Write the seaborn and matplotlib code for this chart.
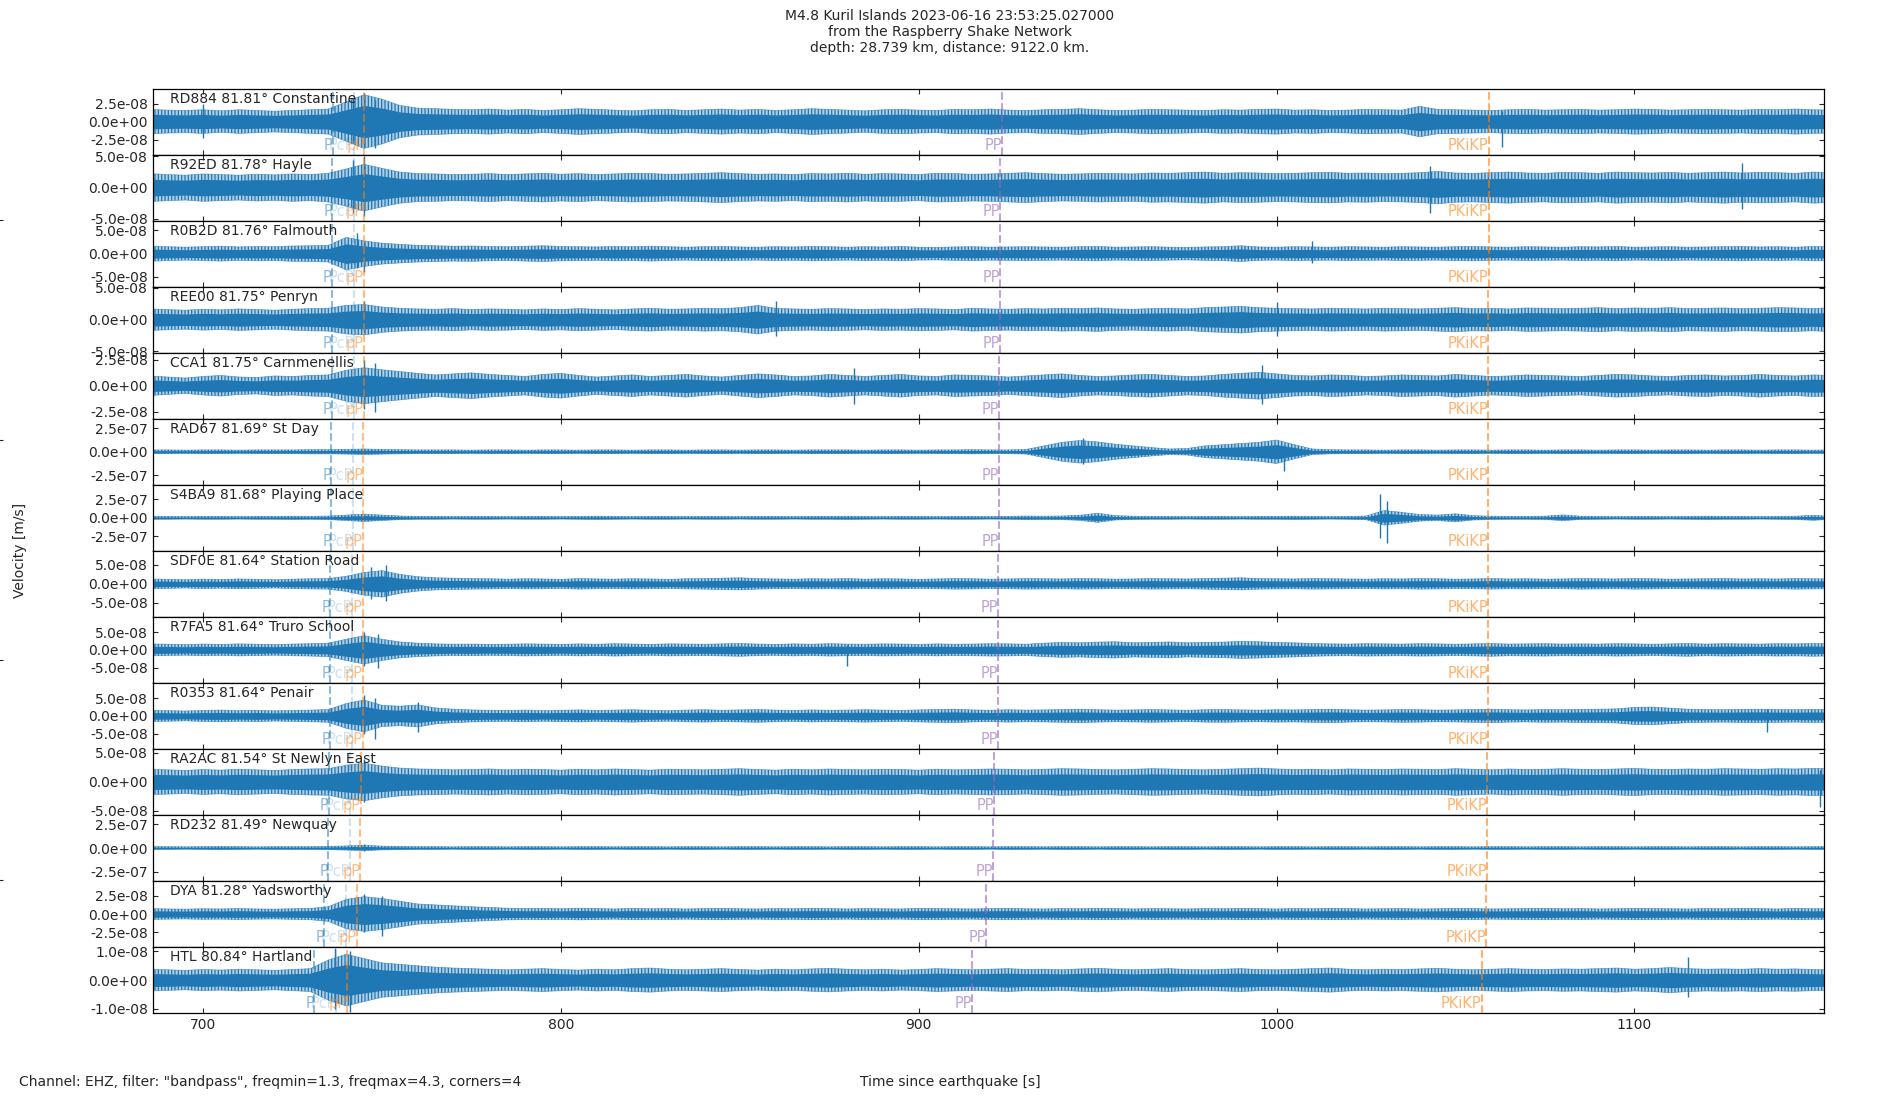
import numpy as np
import pandas as pd
import matplotlib
matplotlib.use("Agg")
import matplotlib.pyplot as plt
import matplotlib.transforms as mtransforms
from matplotlib.ticker import FormatStrFormatter
import seaborn as sns

# station labels (top to bottom)
stations = ["RD884 81.81° Constantine", "R92ED 81.78° Hayle", "R0B2D 81.76° Falmouth",
            "REE00 81.75° Penryn", "CCA1 81.75° Carnmenellis", "RAD67 81.69° St Day",
            "S4BA9 81.68° Playing Place", "SDF0E 81.64° Station Road", "R7FA5 81.64° Truro School",
            "R0353 81.64° Penair", "RA2AC 81.54° St Newlyn East", "RD232 81.49° Newquay",
            "DYA 81.28° Yadsworthy", "HTL 80.84° Hartland"]

# y tick value per station and y half-range (in tick units)
tick_val = [2.5e-08, 5e-08, 5e-08, 5e-08, 2.5e-08, 2.5e-07, 2.5e-07,
            5e-08, 5e-08, 5e-08, 5e-08, 2.5e-07, 2.5e-08, 1e-08]
ylim_units = [1.84, 1.06, 1.42, 1.04, 1.28, 1.4, 1.8, 1.74, 1.86, 1.86, 1.14, 1.4, 1.8, 1.15]

# envelope times (s) and envelope amplitude per station (hundredths of the tick value)
env_t = list(range(685, 1156, 5))
env = [
    [68,64,62,66,60,66,62,58,62,66, 70,110,150,125,90,75,72,68,66,70, 64,68,62,66,72,68,64,60,66,68,
     62,66,70,64,68,62,66,72,68,64, 60,66,68,64,62,68,66,70,64,62, 66,68,72,66,62,64,68,66,64,62,
     66,64,68,70,64,66,62,64,68,66, 64,85,68,66,64,62,66,68,64,66, 68,64,66,70,68,64,66,68,66,64,
     68,66,70,66,64],
    [45,42,40,44,42,40,43,41,44,42, 46,60,75,62,50,45,44,42,43,45, 42,44,46,43,45,42,44,46,45,43,
     44,46,48,45,43,44,42,45,44,46, 43,45,44,42,46,45,43,44,46,48, 45,43,44,46,45,44,47,46,48,50,
     46,48,47,45,46,48,49,46,47,45, 46,48,52,47,46,48,50,47,46,49, 48,46,50,48,47,49,46,48,50,47,
     49,48,46,50,48],
    [33,30,28,30,32,29,31,30,33,34, 36,70,55,45,40,36,34,32,33,31, 30,32,34,31,30,29,31,30,32,30,
     28,30,31,29,28,30,29,31,30,28, 30,29,31,28,27,29,30,28,29,30, 29,28,30,31,28,29,30,28,27,29,
     30,34,29,28,30,29,28,30,29,28, 30,29,28,30,31,29,28,30,29,28, 30,29,31,28,29,30,28,29,30,31,
     29,30,28,31,30],
    [34,32,30,33,31,34,32,30,33,35, 36,45,48,40,36,34,33,35,32,34, 33,31,34,32,35,33,31,34,36,33,
     34,36,35,38,45,36,34,33,35,34, 32,34,33,35,34,32,36,34,33,35, 34,36,35,37,34,33,35,36,34,38,
     40,42,38,36,35,34,36,35,34,36, 35,34,36,38,35,36,34,37,36,35, 36,38,35,37,36,38,35,36,37,35,
     36,38,37,35,38],
    [38,34,30,36,40,34,32,38,36,40, 42,60,70,62,55,48,42,46,50,44, 40,36,44,48,40,34,38,42,36,40,
     44,38,34,40,46,42,36,38,44,40, 36,40,44,38,36,42,40,38,34,38, 42,46,40,36,38,42,44,40,36,38,
     44,48,52,46,40,38,42,40,36,38, 42,40,38,44,40,36,38,42,40,38, 36,40,44,42,38,36,40,42,38,40,
     44,40,38,42,40],
    [8,8,7,8,8,7,8,8,8,9, 9,10,12,10,9,8,8,8,7,8, 8,7,8,8,7,8,8,7,8,8,
     7,8,8,7,8,8,7,8,8,8, 7,8,8,7,8,8,9,8,8,10, 25,40,48,42,32,25,18,12,14,25,
     30,35,40,50,30,12,9,8,8,7, 8,8,7,8,8,7,8,8,7,8, 8,7,8,8,7,8,8,7,8,8,
     7,8,8,7,8],
    [8,8,7,8,8,7,8,8,9,8, 10,15,20,15,10,8,8,7,8,8, 7,8,8,7,8,9,8,7,8,8,
     7,8,8,7,8,8,7,8,8,9, 8,7,8,8,7,8,8,7,8,10, 9,10,14,25,12,9,8,8,7,8,
     8,7,8,8,9,8,7,8,10,40, 30,18,15,22,12,9,8,8,9,16, 9,8,7,8,8,7,8,9,8,8,
     7,8,9,14,8],
    [26,24,22,25,23,26,24,22,25,27, 28,40,60,70,50,38,32,30,28,27, 25,27,26,24,28,26,25,27,26,24,
     27,28,30,32,28,26,25,27,26,28, 25,27,26,24,26,28,27,25,26,28, 27,26,28,27,25,26,28,27,26,28,
     30,32,28,27,26,28,27,26,25,27, 26,28,27,25,26,28,26,27,25,26, 28,27,26,28,27,25,26,27,28,26,
     27,26,28,27,26],
    [34,32,30,33,31,34,32,30,33,35, 38,60,80,60,45,38,34,32,33,31, 32,34,33,31,34,32,35,33,31,34,
     33,32,34,36,33,31,34,32,35,33, 32,34,33,31,34,32,33,35,34,32, 38,42,40,44,46,40,42,45,40,42,
     44,48,46,42,40,36,34,33,35,34, 33,35,34,32,34,36,33,34,35,33, 34,33,35,34,32,34,36,33,35,34,
     33,35,34,36,34],
    [32,30,28,31,33,30,32,29,31,33, 36,70,90,60,55,62,45,38,34,32, 31,33,30,32,34,31,33,35,32,30,
     33,35,32,34,36,33,31,34,32,33, 35,33,31,34,36,38,34,32,35,33, 34,36,38,35,33,34,36,34,32,35,
     36,34,33,35,34,36,38,35,33,34, 36,35,33,34,36,38,35,34,36,35, 37,38,40,48,50,44,38,36,35,37,
     38,36,35,37,36],
    [44,42,40,43,41,44,42,40,43,45, 46,58,65,55,48,45,44,42,43,45, 42,44,43,41,44,42,45,43,41,44,
     43,42,44,46,43,41,44,42,45,43, 42,44,43,41,44,42,43,45,44,42, 44,46,45,43,42,44,46,45,43,42,
     44,46,48,45,43,44,42,45,44,43, 45,44,43,46,44,42,45,43,44,46, 44,43,45,47,44,43,45,44,46,45,
     44,46,45,47,46],
    [6,6,5,6,7,6,5,6,6,6, 7,9,12,8,7,6,6,5,6,6, 5,6,6,5,6,6,5,6,6,5,
     6,6,5,6,6,5,6,6,5,6, 6,5,6,6,5,6,6,5,6,6, 5,6,6,5,6,6,5,6,6,5,
     6,6,5,6,6,5,6,6,5,6, 6,5,6,6,5,6,6,5,6,6, 5,6,6,5,6,6,5,6,6,5,
     6,6,5,6,6],
    [30,28,27,29,28,30,28,27,29,31, 40,80,95,85,70,55,50,45,40,36, 32,30,31,29,32,30,28,31,29,30,
     28,30,31,29,28,30,29,31,30,28, 30,29,28,31,30,29,28,30,31,29, 28,30,29,31,30,28,30,29,28,30,
     29,31,30,28,30,29,31,30,28,29, 30,28,29,31,30,28,29,30,31,29, 30,28,29,31,30,29,28,30,29,31,
     30,28,31,29,30],
    [38,36,34,37,35,38,36,34,37,40, 70,90,75,60,55,50,45,42,40,38, 36,38,40,37,35,38,36,40,42,38,
     36,38,40,37,35,38,36,39,41,38, 36,38,35,37,40,38,36,38,40,37, 38,36,39,41,38,36,38,40,37,36,
     38,40,37,36,38,40,42,38,36,38, 37,39,41,38,36,38,40,38,37,39, 38,40,42,38,40,44,40,38,39,38,
     40,38,39,37,36],
]

# single large excursions: (time s, top, bottom) in tick units
spikes = [
    [(742, 1.3, -1.2), (745, 1.6, -1.4), (748, 1.2, -1.5), (1063, 0.6, -1.4), (700, 1.0, -0.9)],
    [(742, 0.9, -0.8), (745, 1.0, -0.9), (1043, 0.7, -0.8), (1130, 0.8, -0.7)],
    [(743, 0.9, -0.6), (745, 0.5, -0.8), (1010, 0.55, -0.4)],
    [(745, 0.6, -0.4), (860, 0.6, -0.5), (1000, 0.55, -0.5)],
    [(745, 1.0, -0.9), (748, 0.9, -1.0), (882, 0.7, -0.7), (996, 0.8, -0.7)],
    [(946, 0.6, -0.5), (1002, 0.3, -0.8)],
    [(1029, 1.3, -1.1), (1031, 0.9, -1.4)],
    [(747, 0.9, -0.8), (751, 1.0, -0.9)],
    [(745, 1.0, -0.9), (749, 0.9, -1.0), (880, 0.3, -0.9)],
    [(745, 1.2, -1.0), (748, 1.0, -1.3), (760, 0.8, -0.9), (1137, 0.4, -0.9)],
    [(745, 0.8, -0.7), (1152, 0.4, -0.85)],
    [(745, 0.15, -0.12)],
    [(745, 1.1, -1.0), (750, 1.0, -1.2)],
    [(737, 1.1, -1.0), (741, 1.0, -1.1), (1115, 0.8, -0.6)],
]

# phase arrival times (s) per station
phase_names = ["P", "PcP", "pP", "PP", "PKiKP"]
t_P     = [736.2, 736.1, 736.0, 736.0, 736.0, 735.8, 735.8, 735.6, 735.6, 735.6, 735.1, 734.9, 733.9, 731.0]
t_PcP   = [742.3, 742.2, 742.1, 742.1, 742.1, 741.9, 741.9, 741.7, 741.7, 741.7, 741.2, 741.0, 740.0, 737.2]
t_pP    = [745.1, 745.0, 744.9, 744.9, 744.9, 744.8, 744.7, 744.6, 744.6, 744.6, 744.1, 743.9, 742.9, 740.2]
t_PP    = [923.2, 922.8, 922.8, 922.8, 922.5, 922.5, 922.5, 922.1, 922.1, 922.1, 921.1, 920.8, 918.8, 915.0]
t_PKiKP = [1059.3, 1059.3, 1059.3, 1059.2, 1059.2, 1059.2, 1059.2, 1059.1, 1059.1, 1059.1, 1058.9, 1058.8, 1058.5, 1057.3]
phase_times = [t_P, t_PcP, t_pP, t_PP, t_PKiKP]
phase_style = [("C0", 0.5), ("C0", 0.22), ("C1", 0.5), ("C4", 0.6), ("C1", 0.6)]

sns.set_style("ticks")
plt.rcParams["font.family"] = ["DejaVu Sans"]
plt.rcParams["font.size"] = 10
plt.rcParams["hatch.linewidth"] = 0.9
plt.rcParams["hatch.color"] = "#1f77b4"

fig = plt.figure(figsize=(19, 11), dpi=100)
bg = fig.add_axes([0, 0, 1, 1], frameon=False)
bg.set_xticks([])
bg.set_yticks([0.2, 0.4, 0.6, 0.8])
bg.tick_params(labelleft=False, direction="inout", length=4, width=0.8)
bg.set_xlim(0, 1)
bg.set_ylim(0, 1)

n = len(stations)
axes = fig.subplots(n, 1, sharex=True)
fig.subplots_adjust(left=0.0805, right=0.96, top=0.9195, bottom=0.079, hspace=0)

for i, ax in enumerate(axes):
    tv = tick_val[i]
    df = pd.DataFrame({"t": env_t, "a": np.array(env[i]) / 100.0 * tv})
    df["lo"] = -df["a"]
    # outer part of the wiggle band: textured, lighter
    ax.fill_between(df["t"], df["lo"], df["a"], facecolor=(0.12, 0.47, 0.71, 0.35),
                    edgecolor="#1f77b4", hatch="|||||", linewidth=0)
    # dense core of the band
    ax.fill_between(df["t"], df["lo"] * 0.6, df["a"] * 0.6, color="C0", linewidth=0)
    sns.lineplot(data=df, x="t", y="a", ax=ax, color="C0", lw=0.5, alpha=0.6, estimator=None)
    sns.lineplot(data=df, x="t", y="lo", ax=ax, color="C0", lw=0.5, alpha=0.6, estimator=None)
    for (ts, top, bot) in spikes[i]:
        ax.vlines(ts, bot * tv, top * tv, color="C0", lw=1.0)

    ax.set_ylim(-ylim_units[i] * tv, ylim_units[i] * tv)
    ax.set_xlim(686, 1153)
    ax.set_yticks([-tv, 0, tv])
    ax.yaxis.set_major_formatter(FormatStrFormatter("%.1e"))
    ax.set_xticks([700, 800, 900, 1000, 1100])
    ax.tick_params(direction="in", top=True, right=True, length=3.5, width=0.8)
    ax.set_xlabel("")
    ax.set_ylabel("")
    for sp in ax.spines.values():
        sp.set_color("black")
        sp.set_linewidth(0.9)

    trans = mtransforms.blended_transform_factory(ax.transData, ax.transAxes)
    for k, name in enumerate(phase_names):
        col, al = phase_style[k]
        tp = phase_times[k][i]
        ax.axvline(tp, color=col, alpha=al, ls="--", lw=1.5)
        ax.text(tp, 0.03, name, color=col, alpha=al, ha="right", va="bottom",
                fontsize=10.5, transform=trans)

    ax.text(0.01, 0.955, stations[i], transform=ax.transAxes, ha="left", va="top", fontsize=10)

fig.suptitle("M4.8 Kuril Islands 2023-06-16 23:53:25.027000\nfrom the Raspberry Shake Network\n"
             "depth: 28.739 km, distance: 9122.0 km.", y=0.992, fontsize=10)
fig.text(0.5, 0.01, "Time since earthquake [s]", ha="center", va="bottom", fontsize=10)
fig.text(0.007, 0.5, "Velocity [m/s]", rotation=90, ha="left", va="center", fontsize=10)
fig.text(0.01, 0.01, 'Channel: EHZ, filter: "bandpass", freqmin=1.3, freqmax=4.3, corners=4',
         ha="left", va="bottom", fontsize=10)

fig.savefig("out.png", dpi=100)
